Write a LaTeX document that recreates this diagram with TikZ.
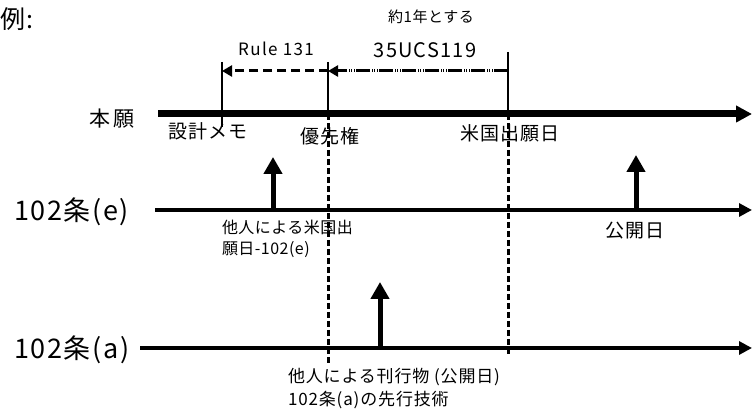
\documentclass[tikz,border=0pt]{standalone}
\usepackage{fontspec}
\setmainfont{Noto Sans CJK JP}
\usetikzlibrary{arrows.meta}
\begin{document}
\begin{tikzpicture}[x=1pt,y=-1pt,
  every node/.style={inner sep=0pt,outer sep=0pt},
  bigfont/.style={font=\fontsize{27}{30}\selectfont\addfontfeature{LetterSpace=6}},
  midfont/.style={font=\fontsize{19}{22}\selectfont\addfontfeature{LetterSpace=4}},
  smallfont/.style={font=\fontsize{16}{21}\selectfont\addfontfeature{LetterSpace=3},align=left},
  mainline/.style={line width=7pt,-{Triangle[length=16pt,width=16pt]}},
  timeline/.style={line width=3.2pt,-{Triangle[length=13pt,width=13pt]}},
  uparrow/.style={line width=5pt,-{Triangle[length=17pt,width=18pt]}},
  guide/.style={line width=1.6pt},
  dashguide/.style={line width=3pt,dash pattern=on 6pt off 3pt},
  spanarrow/.style={line width=3pt,-{Triangle[length=10pt,width=11pt]}}
]
\useasboundingbox (0,0) rectangle (753,411);

% coordinates
\coordinate (mS) at (158,114);
\coordinate (mE) at (752,114);
\coordinate (eS) at (155,210);
\coordinate (eE) at (752,210);
\coordinate (aS) at (140,348);
\coordinate (aE) at (752,348);

\coordinate (g1t) at (222,62);
\coordinate (g1b) at (222,127);
\coordinate (g2t) at (328,62);
\coordinate (g2m) at (328,114);
\coordinate (g2b) at (328,365);
\coordinate (g3t) at (508,52);
\coordinate (g3m) at (508,114);
\coordinate (g3b) at (508,356);

\coordinate (s1) at (222,71);
\coordinate (s2) at (328,71);
\coordinate (s3) at (508,71);

\coordinate (u1b) at (273,210);
\coordinate (u1t) at (273,157);
\coordinate (u2b) at (636,210);
\coordinate (u2t) at (636,155);
\coordinate (u3b) at (380,348);
\coordinate (u3t) at (380,282);

% texts
\node[anchor=west,font=\fontsize{25}{27}\selectfont\addfontfeature{LetterSpace=8}] (rei) at (0,19) {例:};
\node[font=\fontsize{15}{17}\selectfont\addfontfeature{LetterSpace=4}] (yaku) at (431,17) {約1年とする};
\node[font=\fontsize{17}{19}\selectfont\addfontfeature{LetterSpace=8}] (rule) at (276,49) {Rule 131};
\node[font=\fontsize{20}{22}\selectfont\addfontfeature{LetterSpace=6}] (ucs) at (425,50) {35UCS119};
\node[font=\fontsize{21}{23}\selectfont\addfontfeature{LetterSpace=18}] (hongan) at (112,119) {本願};
\node[midfont] (sekkei) at (208,131) {設計メモ};
\node[midfont] (yusen) at (330,136) {優先権};
\node[midfont] (beikoku) at (510,133) {米国出願日};
\node[bigfont,anchor=west] (e102) at (14,212) {102条(e)};
\node[bigfont,anchor=west] (a102) at (14,350) {102条(a)};
\node[smallfont,anchor=north west] (tanin1) at (222,220) {他人による米国出\\願日-102(e)};
\node[midfont] (kokai) at (635,231) {公開日};
\node[font=\fontsize{17}{23}\selectfont\addfontfeature{LetterSpace=5},align=left,anchor=north west] (tanin2) at (288,368) {他人による刊行物 (公開日)\\102条(a)の先行技術};

% timelines
\draw[mainline] (mS) -- (mE);
\draw[timeline] (eS) -- (eE);
\draw[timeline] (aS) -- (aE);

% guides
\draw[guide] (g1t) -- (g1b);
\draw[guide] (g2t) -- (g2m);
\draw[dashguide] (g2m) -- (g2b);
\draw[guide] (g3t) -- (g3m);
\draw[dashguide] (g3m) -- (g3b);

% span arrows
\draw[spanarrow,dash pattern=on 9pt off 5pt] (s2) -- (s1);
\draw[spanarrow,dash pattern=on 14pt off 1.5pt on 1pt off 1.5pt on 1pt off 1.5pt on 1pt off 1.5pt] (s3) -- (s2);

% up arrows
\draw[uparrow] (u1b) -- (u1t);
\draw[uparrow] (u2b) -- (u2t);
\draw[uparrow] (u3b) -- (u3t);
\end{tikzpicture}
\end{document}
